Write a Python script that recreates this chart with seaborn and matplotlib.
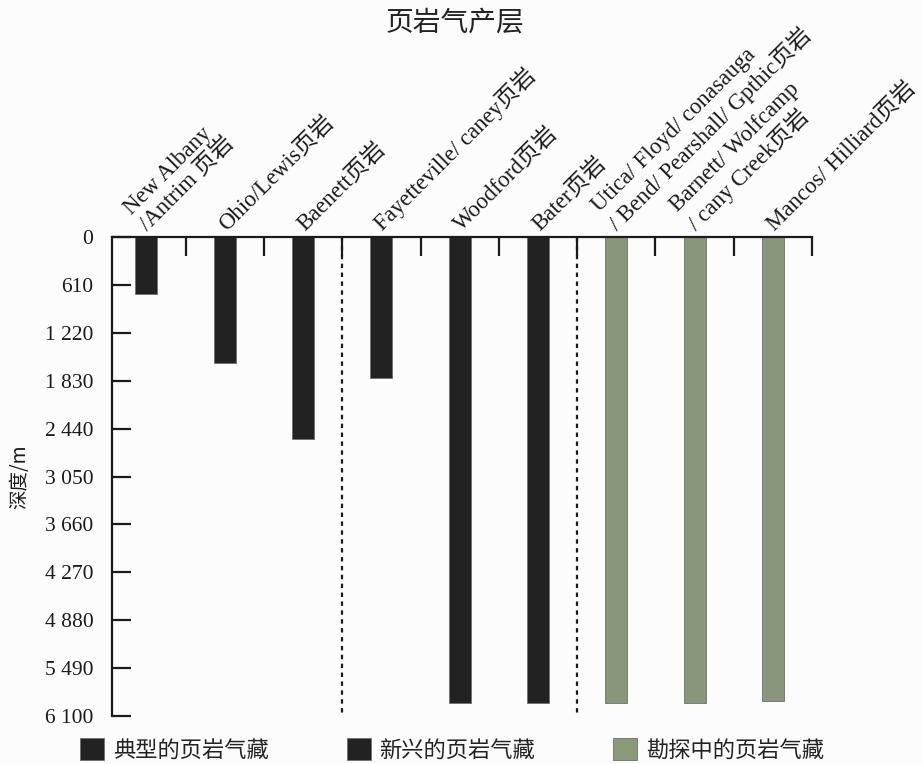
import matplotlib
matplotlib.use("Agg")
import matplotlib.pyplot as plt
import matplotlib.transforms as mtransforms
from matplotlib.patches import Patch
import seaborn as sns
import pandas as pd

# ---- data ----
categories = [
    "New Albany\n/Antrim 页岩",
    "Ohio/Lewis页岩",
    "Baenett页岩",
    "Fayetteville/ caney页岩",
    "Woodford页岩",
    "Bater页岩",
    "Utica/ Floyd/ conasauga\n/ Bend/ Pearshall/ Gpthic页岩",
    "Barnett/ Wolfcamp\n/ cany Creek页岩",
    "Mancos/ Hilliard页岩",
]
depths = [730, 1600, 2570, 1800, 5940, 5940, 5930, 5930, 5905]
groups = ["典型的页岩气藏"] * 3 + ["新兴的页岩气藏"] * 3 + ["勘探中的页岩气藏"] * 3
group_names = ["典型的页岩气藏", "新兴的页岩气藏", "勘探中的页岩气藏"]
group_colors = ["#222222", "#222222", "#8a9a78"]
y_ticks = [0, 610, 1220, 1830, 2440, 3050, 3660, 4270, 4880, 5490, 6100]
y_tick_labels = ["0", "610", "1 220", "1 830", "2 440", "3 050", "3 660",
                 "4 270", "4 880", "5 490", "6 100"]
separators = [2.5, 5.5]
title = "页岩气产层"
ylabel = "深度/m"

df = pd.DataFrame({"cat": categories, "depth": depths, "group": groups})
palette = dict(zip(group_names, group_colors))

sns.set_theme(style="white")
FAM = ["Liberation Serif", "Noto Sans CJK SC", "DejaVu Sans"]
CJK = ["Noto Sans CJK SC", "DejaVu Sans"]
plt.rcParams["font.family"] = FAM
plt.rcParams["axes.unicode_minus"] = False

fig = plt.figure(figsize=(9.22, 7.64), dpi=100, facecolor="#fcfcfc")
ax = fig.add_axes([112 / 922, 48 / 764, 700 / 922, 479 / 764])
ax.set_facecolor("#fcfcfc")

sns.barplot(data=df, x="cat", y="depth", hue="group", palette=palette,
            dodge=False, width=0.28, legend=False, ax=ax,
            edgecolor="#6f6f6f", linewidth=0.6, order=categories,
            hue_order=group_names)

ax.set_ylim(6100, 0)
ax.set_xlim(-0.44, 8.5)

# spines
for s in ["bottom", "right"]:
    ax.spines[s].set_visible(False)
for s in ["top", "left"]:
    ax.spines[s].set_visible(True)
    ax.spines[s].set_linewidth(1.6)
    ax.spines[s].set_color("#1a1a1a")

# y axis
ax.set_yticks(y_ticks)
ax.set_yticklabels(y_tick_labels)
ax.tick_params(axis="y", direction="in", length=14, width=1.6, color="#1a1a1a",
               pad=13.5, labelsize=15.5, labelcolor="#1a1a1a", left=True)
ax.set_ylabel(ylabel, fontsize=14, family=CJK, color="#1a1a1a")
ax.yaxis.set_label_coords(-82 / 700, 0.5)

# x axis on top
ax.xaxis.set_ticks_position("top")
ax.xaxis.set_label_position("top")
ax.set_xlabel("")
ax.set_xticks(range(len(categories)))
ax.set_xticklabels(categories, rotation=45, ha="left", rotation_mode="anchor",
                   fontsize=16.4, color="#1a1a1a", linespacing=1.1)
ax.set_xticks([i + 0.5 for i in range(len(categories))], minor=True)
ax.tick_params(axis="x", which="major", length=0, pad=3, top=True, bottom=False,
               labeltop=True, labelbottom=False)
ax.tick_params(axis="x", which="minor", direction="in", length=14, width=1.6,
               color="#1a1a1a", top=True, bottom=False)
off = mtransforms.ScaledTranslation(5 / 100, -2 / 100, fig.dpi_scale_trans)
for lab in ax.get_xticklabels():
    lab.set_transform(lab.get_transform() + off)

# dotted separators
ax.vlines(separators, 0, 6080, colors="#1a1a1a", linestyles=(0, (2, 2)),
          linewidth=1.6)

# title
fig.text(455 / 922, 1 - 22 / 764, title, ha="center", va="center",
         fontsize=20, family=CJK, color="#222222")

# legend
handles = [Patch(facecolor=c, edgecolor="#6f6f6f", linewidth=0.6)
           for c in group_colors]
leg = fig.legend(handles, group_names, loc="center", ncol=3,
                 bbox_to_anchor=(452 / 922, 1 - 750 / 764), frameon=False,
                 prop={"family": CJK, "size": 16}, handlelength=1.08,
                 handleheight=1.08, handletextpad=0.4, columnspacing=3.5,
                 borderpad=0.0)
for t in leg.get_texts():
    t.set_color("#222222")

fig.savefig("out.png", dpi=100, facecolor=fig.get_facecolor())
